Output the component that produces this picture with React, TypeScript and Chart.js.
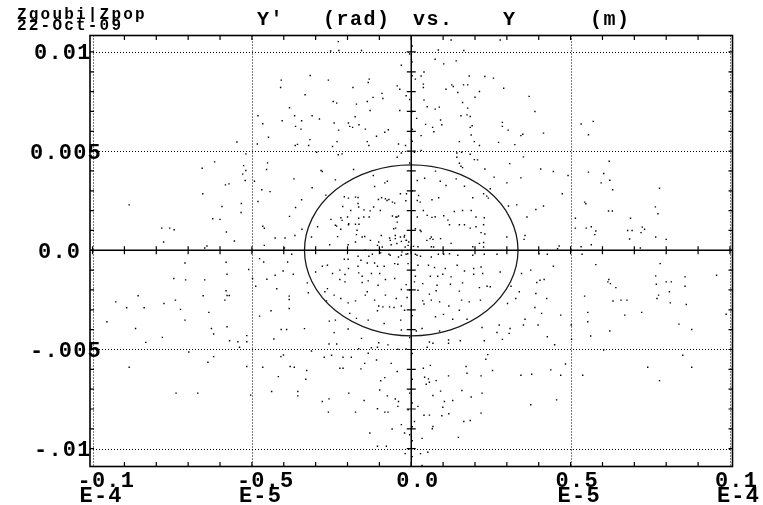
import { useEffect, useRef } from "react";
import { Chart, registerables } from "chart.js";

Chart.register(...registerables);

// Axis ranges: horizontal Y in micrometres, vertical Y' in milliradians
const Y_RANGE: [number, number] = [-10.08, 10.08];
const YP_RANGE: [number, number] = [-10.9, 10.83];

const xMajorTicks = [-10, -5, 0, 5, 10];
const xTickMantissa = ["-0.1", "-0.5", "0.0", "0.5", "0.1"];
const xTickExponent = ["E-4", "E-5", "", "E-5", "E-4"];

const yMajorTicks = [10, 5, 0, -5, -10];
const yTickText = ["0.01", "0.005", "0.0", "-.005", "-.01"];

const titleWords = ["Y'", "(rad)", "vs.", "Y", "(m)"];
const headerLines = ["Zgoubi|Zpop", "22-Oct-09"];

// Matched ellipse: centre and semi-axes (µm, mrad)
const ellipseCentre: [number, number] = [0, 0];
const ellipseSemiAxes: [number, number] = [3.35, 4.31];

// Particles: [Y (µm), Y' (mrad)]
const particles: [number, number][] = [
  [-2.29, 10.52], [-2.53, 10.05], [-2.27, 10.07], [-1.56, 10.07], [-0.31, 9.33], [-4.08, 8.58], [-4.1, 8.21], [-3.17, 8.81],
  [-2.6, 8.58], [-1.32, 8.63], [-1.35, 8.46], [-1.83, 8.21], [-0.44, 8.29], [-0.36, 8.12], [-3.33, 7.84], [-0.92, 7.91],
  [-0.89, 7.65], [-0.16, 7.79], [-2.45, 7.5], [-2.34, 7.42], [-1.72, 7.37], [-1.2, 7.71], [-1.38, 7.5], [-3.82, 7.19],
  [-4.81, 6.78], [-3.66, 6.78], [-3.11, 6.78], [-1.76, 6.73], [-1.29, 7.05], [-0.36, 7.05], [-4.05, 6.53], [-3.44, 6.53],
  [-2.88, 6.62], [-2.42, 6.42], [-1.97, 6.42], [-1.93, 6.25], [-1.64, 6.33], [-1.84, 6.2], [-1.44, 6.11], [-2.28, 6.06],
  [-3.63, 6.25], [-3.46, 6.11], [-0.72, 6.08], [-0.83, 5.95], [-1.09, 5.75], [-4.48, 5.7], [-4.66, 6.38], [-4.83, 5.36],
  [-3.64, 5.28], [-3.57, 5.34], [-3.18, 5.58], [-3.22, 5.28], [-2.47, 5.23], [-2.33, 5.48], [-1.38, 5.48], [-1.33, 5.28],
  [-0.4, 5.36], [-0.18, 5.28], [-5.47, 5.46], [-5.19, 4.86], [-2.29, 4.82], [-2.17, 4.86], [-2.97, 4.94], [-0.31, 4.91],
  [-0.44, 4.69], [-6.17, 4.46], [-6.56, 4.14], [-5.26, 4.27], [-5.19, 4.02], [-5.29, 3.84], [-5.21, 3.52], [-5.72, 3.35],
  [-5.83, 3.3], [-4.51, 4.41], [-4.54, 4.07], [-4.92, 3.48], [-3.68, 3.6], [-2.83, 4.02], [-2.79, 3.97], [-2.38, 3.55],
  [-1.81, 4.07], [-1.19, 3.77], [-0.83, 3.4], [-0.75, 3.48], [-1.15, 3.22], [-6.54, 2.85], [-4.69, 3.05], [-4.43, 2.96],
  [-3.11, 3.15], [-2.68, 2.78], [-8.85, 2.29], [-5.94, 2.21], [-5.33, 2.36], [-5.34, 1.91], [-4.81, 2.46], [-3.44, 2.55],
  [-3.63, 2.16], [-2.1, 2.7], [-2.15, 2.21], [-1.97, 2.63], [-1.67, 2.66], [-1.67, 2.36], [-1.9, 2.01], [-1.48, 2.04],
  [-1.29, 1.99], [-1.03, 2.56], [-0.93, 2.65], [-0.81, 2.6], [-0.7, 2.56], [-0.59, 2.43], [-0.52, 2.38], [-0.15, 2.85],
  [-0.17, 2.5], [-6.23, 1.59], [-6.0, 1.56], [-3.82, 1.71], [-2.52, 1.56], [-2.21, 1.64], [-2.0, 1.68], [-1.65, 1.62],
  [-1.32, 1.68], [-0.59, 1.73], [-0.48, 1.68], [-0.4, 1.73], [-0.44, 1.42], [-7.83, 1.12], [-7.58, 1.12], [-7.44, 1.04],
  [-5.8, 0.92], [-4.66, 1.21], [-4.61, 1.11], [-3.43, 1.06], [-2.94, 1.19], [-2.34, 1.22], [-2.21, 1.06], [-1.97, 1.29],
  [-1.75, 1.31], [-1.64, 1.31], [-0.49, 1.12], [-7.77, 0.42], [-5.55, 0.47], [-4.27, 0.62], [-3.96, 0.62], [-3.65, 0.75],
  [-3.13, 0.67], [-2.31, 0.69], [-1.72, 0.79], [-1.46, 0.7], [-0.94, 0.75], [-0.68, 0.62], [-0.5, 0.59], [-0.21, 0.75],
  [-0.15, 0.5], [-6.41, 0.22], [-6.48, 0.12], [-4.61, 0.25], [-3.98, 0.12], [-2.56, 0.28], [-1.98, 0.28], [-1.06, 0.25],
  [-0.91, 0.17], [-0.63, 0.28], [-0.31, 0.45], [-0.1, 0.25],
  [1.25, 10.6], [2.79, 10.6], [0.85, 10.1], [1.65, 10.07], [0.75, 9.63], [1.41, 9.55], [1.02, 9.4], [0.4, 8.99],
  [0.31, 8.79], [0.13, 8.63], [1.82, 8.79], [2.31, 8.76], [2.58, 8.68], [0.38, 8.38], [0.38, 8.21], [1.27, 8.34],
  [1.32, 8.26], [1.64, 8.34], [1.77, 8.34], [1.09, 8.12], [1.46, 7.96], [2.14, 8.01], [2.9, 8.17], [2.0, 7.72],
  [3.7, 7.76], [0.4, 7.57], [1.61, 7.45], [0.5, 7.24], [0.75, 7.12], [0.88, 7.22], [1.77, 7.17], [3.88, 7.0],
  [1.56, 6.78], [1.75, 6.83], [1.85, 6.75], [0.17, 6.65], [0.92, 6.57], [0.45, 6.35], [0.96, 6.33], [0.67, 6.2],
  [0.71, 5.98], [1.91, 6.28], [1.85, 6.2], [2.86, 6.45], [2.86, 6.25], [3.04, 6.06], [1.88, 5.81], [0.31, 5.78],
  [3.44, 5.78], [3.5, 5.85], [4.15, 5.91], [1.51, 5.48], [1.98, 5.48], [2.14, 5.28], [2.74, 5.44], [3.25, 5.33],
  [0.31, 5.04], [0.1, 4.94], [1.43, 4.91], [1.58, 4.94], [1.85, 4.84], [3.52, 4.71], [1.98, 4.57], [2.08, 4.56],
  [1.43, 4.69], [1.51, 4.39], [1.56, 4.24], [1.61, 4.17], [3.09, 4.37], [4.06, 4.1], [4.46, 3.97], [2.31, 4.1],
  [4.92, 3.77], [0.19, 3.52], [0.42, 3.63], [0.76, 3.99], [0.91, 3.48], [1.09, 3.27], [1.41, 3.6], [1.67, 3.23],
  [2.6, 3.69], [3.0, 3.4], [3.44, 3.65], [2.48, 3.1], [2.27, 2.85], [2.42, 2.63], [2.37, 2.73], [1.93, 2.65],
  [0.86, 2.65], [0.65, 2.55], [4.74, 2.85], [0.19, 2.51], [3.05, 2.23], [3.31, 2.29], [4.15, 2.23], [3.91, 2.06],
  [1.61, 2.01], [1.88, 2.01], [1.35, 1.96], [0.5, 1.76], [0.65, 1.66], [0.75, 1.69], [1.02, 1.74], [1.15, 1.52],
  [0.19, 1.68], [2.03, 1.68], [2.29, 1.64], [3.63, 1.68], [1.51, 1.29], [1.67, 1.29], [1.85, 1.12], [2.03, 1.19],
  [2.27, 1.29], [1.2, 1.29], [0.13, 1.09], [0.31, 0.95], [2.19, 0.89], [2.31, 0.82], [3.0, 0.67], [3.57, 0.75],
  [3.54, 0.55], [0.63, 0.67], [0.68, 0.55], [0.92, 0.59], [1.25, 0.35], [1.93, 0.18], [2.14, 0.35], [2.27, 0.39],
  [2.27, 0.17], [0.21, 0.18], [0.63, 0.18], [4.64, 0.22], [4.59, 0.08],
  [5.33, 6.37], [5.71, 6.5], [5.56, 5.83], [6.21, 4.49], [5.56, 3.94], [6.04, 3.87], [5.96, 3.4], [6.23, 3.53],
  [6.32, 3.05], [7.79, 3.13], [5.44, 2.43], [5.48, 2.35], [6.19, 1.98], [6.31, 1.98], [7.66, 2.19], [7.74, 1.84],
  [6.88, 1.62], [5.15, 1.62], [5.15, 1.12], [5.49, 1.12], [5.65, 1.19], [5.79, 0.97], [5.76, 0.79], [6.79, 1.0],
  [6.93, 1.0], [7.25, 1.17], [7.32, 1.06], [7.21, 0.89], [7.67, 0.67], [6.85, 0.57], [8.0, 0.55], [5.65, 0.28],
  [5.33, 0.18], [7.19, 0.12],
  [-7.1, -0.64], [-5.81, -0.6], [-7.45, -1.42], [-7.08, -1.49], [-6.48, -1.49], [-5.78, -1.21], [-5.1, -0.97], [-5.81, -2.04],
  [-5.78, -2.28], [-5.71, -2.28], [-5.85, -2.51], [-6.53, -2.29], [-7.4, -2.51], [-8.57, -2.29], [-9.27, -2.6], [-8.93, -2.9],
  [-8.38, -2.9], [-7.76, -2.68], [-7.24, -2.98], [-6.35, -3.13], [-9.55, -3.6], [-7.1, -3.52], [-8.65, -3.94], [-6.27, -3.94],
  [-6.2, -4.22], [-5.78, -3.85], [-8.33, -4.64], [-7.81, -4.39], [-5.7, -4.56], [-5.44, -4.61], [-5.16, -4.3], [-5.16, -4.61],
  [-5.39, -4.89], [-6.98, -5.13], [-6.2, -5.36], [-6.38, -5.64], [-8.85, -5.9], [-5.16, -5.86], [-7.38, -7.2], [-6.7, -7.2],
  [-5.04, -7.3],
  [-4.76, -0.42], [-4.63, -0.59], [-3.75, -0.2], [-3.88, -0.59], [-4.98, -1.42], [-4.53, -1.46], [-4.27, -1.26], [-4.02, -1.04],
  [-3.7, -1.21], [-4.88, -1.81], [-4.22, -1.94], [-3.83, -2.31], [-3.83, -2.48], [-3.83, -2.93], [-4.4, -3.05], [-4.76, -3.32],
  [-4.08, -3.99], [-3.91, -3.99], [-3.35, -3.95], [-4.31, -4.47], [-3.23, -2.14], [-3.26, -1.64], [-3.0, -1.09], [-2.79, -0.8],
  [-2.63, -0.75], [-2.47, -1.17], [-2.24, -1.0], [-2.24, -1.47], [-2.08, -1.22], [-1.97, -0.92], [-1.98, -0.45], [-2.1, -0.45],
  [-2.63, -1.93], [-2.71, -2.09], [-2.66, -2.55], [-2.42, -2.26], [-2.21, -2.43], [-1.98, -2.65], [-1.75, -2.55], [-2.08, -1.59],
  [-1.67, -0.3], [-1.58, -0.5], [-1.33, -0.3], [-1.22, -0.2], [-0.96, -0.13], [-0.7, -0.2], [-0.52, -0.67], [-0.31, -0.25],
  [-0.16, -0.2], [-0.1, -0.67], [-1.67, -0.8], [-1.38, -0.64], [-1.15, -0.64], [-1.06, -0.8], [-0.85, -0.8], [-0.42, -0.7],
  [-1.65, -1.14], [-1.25, -1.17], [-0.99, -1.17], [-1.54, -1.31], [-1.54, -1.62], [-1.35, -1.54], [-1.04, -1.76], [-0.81, -1.47],
  [-0.52, -1.42], [-0.16, -1.73], [-1.38, -2.09], [-1.44, -2.26], [-1.15, -2.51], [-0.81, -2.26], [-0.47, -2.43], [-0.31, -1.98],
  [-0.13, -2.38], [-1.02, -2.81], [-0.89, -2.85], [-0.68, -2.85], [-0.54, -2.88], [-0.31, -2.81], [-1.06, -3.05], [-0.21, -3.02],
  [-0.33, -3.52], [-0.31, -4.02], [-0.85, -3.69], [-1.35, -3.52], [-1.72, -3.43], [-1.93, -3.18], [-2.38, -3.52], [-2.57, -3.57],
  [-2.42, -4.15], [-1.98, -3.97], [-1.56, -4.44], [-1.02, -4.66], [-0.73, -4.77], [-2.34, -4.72], [-2.58, -4.72], [-1.65, -4.96],
  [-1.25, -4.91], [-1.06, -4.89], [-0.42, -4.99], [-0.16, -4.97], [-3.13, -5.08], [-4.01, -5.28], [-4.09, -5.36], [-2.5, -5.29],
  [-2.73, -5.39], [-2.14, -5.39], [-1.88, -5.39], [-1.35, -5.19], [-1.09, -5.53], [-1.46, -5.7], [-0.63, -5.7], [-4.66, -5.9],
  [-3.8, -5.86], [-3.67, -5.9], [-3.28, -6.06], [-2.24, -5.95], [-2.14, -5.95], [-1.58, -5.98], [-0.44, -6.11], [-4.17, -6.37],
  [-3.31, -6.5], [-0.83, -6.42], [-0.96, -6.58], [-4.38, -7.12], [-3.56, -7.12], [-3.56, -7.34], [-1.96, -7.2], [-2.58, -7.49],
  [-2.79, -7.62], [-1.48, -7.57], [-0.99, -7.04], [-0.75, -7.34], [-0.5, -7.5], [-0.4, -7.62], [-1.06, -7.99], [-0.83, -8.16],
  [-0.73, -8.16], [-2.6, -8.16], [-1.75, -8.16], [-0.42, -7.87], [-0.1, -8.04], [-0.31, -8.79], [-0.6, -9.01], [-0.21, -9.21],
  [-1.3, -9.21], [-1.06, -9.88], [-0.78, -9.88], [-0.19, -10.25],
  [0.13, -0.2], [0.29, -0.3], [0.63, -0.34], [0.85, -0.2], [1.02, -0.2], [1.2, -0.17], [1.46, -0.25], [1.93, -0.25],
  [2.29, -0.2], [2.69, -0.2], [0.21, -0.75], [0.54, -0.75], [0.73, -0.87], [1.07, -0.92], [1.44, -0.75], [1.67, -1.04],
  [1.96, -0.92], [2.19, -0.84], [2.79, -1.09], [0.13, -1.31], [0.6, -1.31], [0.83, -1.31], [0.99, -1.21], [1.25, -1.34],
  [1.96, -1.21], [2.24, -1.17], [0.1, -1.59], [0.36, -1.68], [0.81, -1.76], [1.23, -1.71], [1.61, -1.64], [2.14, -1.88],
  [2.38, -1.81], [2.48, -1.84], [0.21, -2.01], [0.57, -2.21], [0.78, -2.04], [1.51, -2.06], [0.89, -2.6], [0.36, -2.55],
  [0.4, -2.71], [0.63, -2.51], [1.58, -2.51], [1.82, -2.6], [2.17, -2.51], [1.18, -2.81], [1.51, -3.02], [0.76, -3.35],
  [1.01, -3.23], [1.3, -3.48], [1.75, -3.48], [0.34, -3.94], [0.16, -4.07], [0.89, -4.07],
  [3.46, -1.17], [3.75, -1.0], [4.01, -0.17], [4.27, -0.2], [4.46, -0.8], [3.13, -1.81], [3.39, -2.09], [3.94, -1.62],
  [4.04, -1.51], [4.17, -1.47], [3.91, -2.18], [4.25, -2.43], [3.28, -2.43], [3.02, -2.68], [3.88, -2.88], [4.09, -3.18],
  [4.69, -3.27], [3.57, -3.48], [3.52, -3.77], [3.98, -3.77], [2.76, -3.77], [2.22, -3.89], [3.1, -3.94], [2.69, -4.14],
  [3.07, -4.19], [4.27, -4.36], [2.86, -4.49], [2.29, -4.56], [1.54, -4.56], [1.17, -4.52], [1.17, -4.69], [0.57, -4.62],
  [0.68, -4.69], [4.5, -4.76], [0.5, -4.89], [2.4, -5.26], [2.34, -5.49], [0.6, -5.8], [0.38, -5.95], [1.72, -5.86],
  [2.55, -6.06], [3.44, -6.3], [3.78, -6.25], [4.38, -6.03], [4.84, -5.73], [4.69, -6.3], [1.17, -6.33], [1.75, -6.2],
  [2.19, -6.33], [0.42, -6.4], [0.54, -6.48], [0.57, -6.65], [0.47, -6.75], [0.78, -6.57], [0.92, -7.1], [1.59, -7.07],
  [1.88, -7.4], [2.22, -7.2], [0.68, -7.32], [1.3, -7.57], [1.04, -7.62], [0.99, -7.91], [1.18, -8.24], [0.96, -8.34],
  [0.21, -7.87], [0.4, -8.32], [0.57, -8.31], [2.19, -8.21], [1.65, -8.63], [1.85, -8.58], [3.75, -7.79], [4.56, -7.54],
  [0.1, -8.63], [0.68, -8.88], [0.66, -9.0], [0.34, -9.48], [1.48, -9.43], [0.29, -10.25], [0.52, -10.18], [0.34, -10.85],
  [5.36, -0.2], [5.79, -0.72], [7.81, -0.67], [6.2, -1.47], [6.17, -1.59], [6.25, -1.68], [6.42, -1.88], [7.67, -1.29],
  [7.69, -1.71], [8.0, -1.59], [8.16, -1.59], [8.59, -1.34], [9.58, -1.26], [8.59, -1.81], [8.1, -2.09], [7.76, -2.26],
  [7.71, -2.43], [6.58, -2.51], [6.77, -2.51], [6.33, -2.56], [5.44, -2.31], [8.13, -2.65], [8.63, -2.73], [5.54, -3.13],
  [5.54, -3.6], [6.7, -3.27], [7.23, -3.13], [9.88, -3.22], [5.02, -3.77], [6.23, -4.07], [5.63, -4.32], [8.4, -3.72],
  [8.8, -3.99], [5.03, -4.49], [6.04, -5.03], [8.52, -5.29], [8.8, -5.9], [7.42, -5.9], [5.38, -6.3], [7.79, -6.57],
  [-0.16, 0.5], [-0.22, 0.67], [-0.08, 0.42], [-0.34, 0.67], [-0.45, 0.34], [-0.19, 0.17], [0.07, 0.2], [-0.29, -0.08],
  [-0.11, -0.17], [0.18, -0.25], [-0.4, -0.34], [-0.55, 1.09], [-0.5, 0.75], [-0.66, 0.5], [0.28, 1.01], [0.49, 0.5],
  [0.59, 0.59], [0.7, 0.17], [-0.66, -0.25], [-0.97, 0.0], [0.23, 2.76], [0.28, 2.43], [0.38, 2.01], [-0.34, 2.85],
  [-0.45, 1.68], [-0.76, 2.51], [-0.97, 2.01], [-1.18, 2.18], [-1.49, 1.68], [-1.65, 2.18], [-1.75, 2.68], [-1.96, 1.34],
  [-2.38, 1.26], [-2.17, 1.51], [-1.7, 1.01], [-1.54, 0.67], [-1.28, 0.5], [-1.75, 0.42], [-1.44, 0.0], [-1.02, 0.42],
  [0.03, 10.3], [0.03, 9.5], [0.03, 8.8], [0.03, 7.0], [0.03, 6.1], [0.03, 5.5], [0.03, 3.0], [0.03, -3.3],
  [0.03, -5.2], [0.03, -6.5], [0.03, -7.7], [0.03, -8.9], [0.03, -9.6], [0.03, -10.4], [-0.05, 9.9], [-0.05, 7.6],
  [-0.05, 4.4], [-0.05, -2.0], [-0.05, -4.4], [-0.05, -7.2], [-0.05, -9.3], [-0.05, -10.0],
];

const FONT = "'Liberation Mono', 'DejaVu Sans Mono', monospace";

const phaseSpaceDecor = {
  id: "phaseSpaceDecor",
  beforeDatasetsDraw(chart: any) {
    const { ctx, chartArea: a, scales } = chart;
    const sx = scales.x, sy = scales.y;
    ctx.save();
    ctx.strokeStyle = "#000";
    ctx.lineWidth = 1;
    ctx.setLineDash([1, 2]);
    ctx.beginPath();
    for (const v of xMajorTicks) {
      const px = Math.round(sx.getPixelForValue(v)) + 0.5;
      ctx.moveTo(px, a.top);
      ctx.lineTo(px, a.bottom);
    }
    for (const v of yMajorTicks) {
      const py = Math.round(sy.getPixelForValue(v)) + 0.5;
      ctx.moveTo(a.left, py);
      ctx.lineTo(a.right, py);
    }
    ctx.stroke();
    ctx.restore();
  },
  afterDatasetsDraw(chart: any) {
    const { ctx, chartArea: a, scales } = chart;
    const sx = scales.x, sy = scales.y;
    const cx = sx.getPixelForValue(ellipseCentre[0]);
    const cy = sy.getPixelForValue(ellipseCentre[1]);
    const ox = sx.getPixelForValue(0);
    const oy = sy.getPixelForValue(0);

    ctx.save();
    // ellipse
    ctx.strokeStyle = "#1a1a1a";
    ctx.lineWidth = 1.3;
    ctx.beginPath();
    ctx.ellipse(
      cx,
      cy,
      sx.getPixelForValue(ellipseCentre[0] + ellipseSemiAxes[0]) - cx,
      cy - sy.getPixelForValue(ellipseCentre[1] + ellipseSemiAxes[1]),
      0,
      0,
      Math.PI * 2
    );
    ctx.stroke();

    // axes through the origin with cross ticks
    ctx.strokeStyle = "#000";
    ctx.lineWidth = 1.5;
    ctx.beginPath();
    ctx.moveTo(a.left, oy);
    ctx.lineTo(a.right, oy);
    ctx.moveTo(ox, a.top);
    ctx.lineTo(ox, a.bottom);
    ctx.stroke();

    ctx.lineWidth = 1.2;
    ctx.beginPath();
    for (let i = -10; i <= 10; i++) {
      const px = sx.getPixelForValue(i);
      ctx.moveTo(px, oy - 4);
      ctx.lineTo(px, oy + 4);
      const py = sy.getPixelForValue(i);
      ctx.moveTo(ox - 4.5, py);
      ctx.lineTo(ox + 4.5, py);
    }
    // frame ticks
    for (let i = -9; i <= 9; i++) {
      const px = sx.getPixelForValue(i);
      ctx.moveTo(px, a.top);
      ctx.lineTo(px, a.top + 4.5);
      ctx.moveTo(px, a.bottom);
      ctx.lineTo(px, a.bottom - 4.5);
    }
    for (let j = -10; j <= 10; j++) {
      const py = sy.getPixelForValue(j);
      ctx.moveTo(a.left, py);
      ctx.lineTo(a.left + 4, py);
      ctx.moveTo(a.right, py);
      ctx.lineTo(a.right - 4, py);
    }
    ctx.stroke();

    // frame
    ctx.lineWidth = 1.6;
    ctx.strokeRect(a.left, a.top, a.right - a.left, a.bottom - a.top);

    // tick labels
    ctx.fillStyle = "#000";
    ctx.textBaseline = "alphabetic";
    ctx.textAlign = "left";
    ctx.font = `bold 22px ${FONT}`;
    (ctx as any).letterSpacing = "1.2px";
    yMajorTicks.forEach((v, i) => {
      const py = sy.getPixelForValue(v);
      const txt = yTickText[i];
      ctx.fillText(txt, 50 - 4 * txt.length, py + 7.5);
    });
    xMajorTicks.forEach((v, i) => {
      const px = sx.getPixelForValue(v);
      ctx.fillText(xTickMantissa[i], px - 15, 487);
      if (xTickExponent[i]) ctx.fillText(xTickExponent[i], px - 13, 502);
    });

    // title
    ctx.font = `bold 20px ${FONT}`;
    (ctx as any).letterSpacing = "1.5px";
    const titleX = [257, 323, 413, 503, 590];
    titleWords.forEach((w, i) => ctx.fillText(w, titleX[i], 25));

    // header
    ctx.font = `bold 16px ${FONT}`;
    (ctx as any).letterSpacing = "2.2px";
    ctx.fillText(headerLines[0], 17, 19);
    ctx.fillText(headerLines[1], 17, 30);
    ctx.restore();
  },
};

export default function App() {
  const canvasRef = useRef<HTMLCanvasElement | null>(null);

  useEffect(() => {
    if (!canvasRef.current) return;
    const chart = new Chart(canvasRef.current, {
      type: "scatter",
      data: {
        datasets: [
          {
            data: particles.map(([x, y]) => ({ x, y })),
            pointStyle: "rect",
            pointRadius: 1,
            pointBorderWidth: 0,
            backgroundColor: "#000",
            borderColor: "#000",
          },
        ],
      },
      options: {
        animation: false,
        responsive: false,
        devicePixelRatio: 1,
        events: [],
        layout: { padding: { left: 90, right: 30.5, top: 35.5, bottom: 38.5 } },
        scales: {
          x: { type: "linear", min: Y_RANGE[0], max: Y_RANGE[1], display: false },
          y: { type: "linear", min: YP_RANGE[0], max: YP_RANGE[1], display: false },
        },
        plugins: { legend: { display: false }, tooltip: { enabled: false } },
      },
      plugins: [phaseSpaceDecor],
    });
    return () => chart.destroy();
  }, []);

  return (
    <div style={{ position: "absolute", left: 0, top: 0, width: 763, height: 505, background: "#fff" }}>
      <canvas ref={canvasRef} width={763} height={505} />
    </div>
  );
}
